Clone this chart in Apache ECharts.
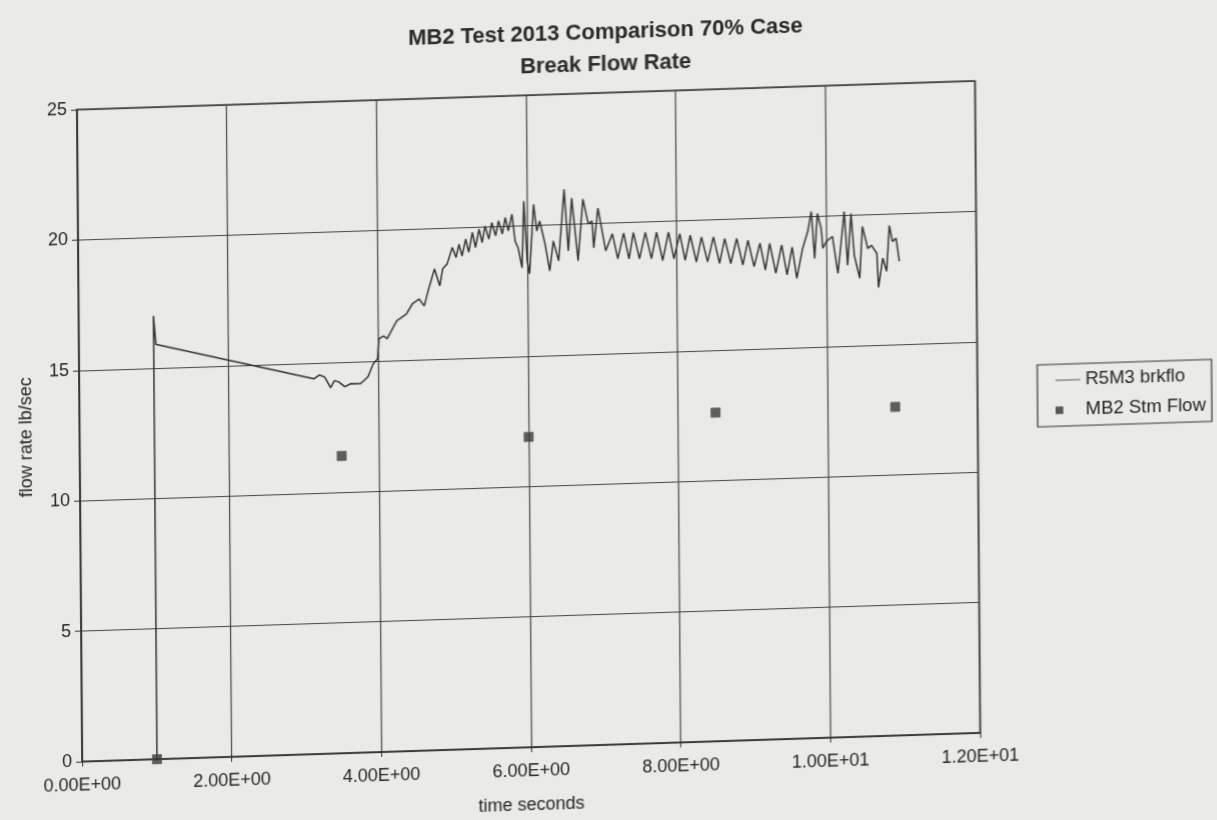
<!DOCTYPE html>
<html>
<head>
<meta charset="utf-8">
<title>MB2 Test 2013 Comparison 70% Case</title>
<script src="https://cdn.jsdelivr.net/npm/echarts@6/dist/echarts.min.js"></script>
<style>
  html, body { margin: 0; padding: 0; background: #eaeae8; overflow: hidden; width: 1217px; height: 820px; }
  /* the page sits slightly sheared, the way the printed sheet was fed */
  #chart {
    width: 1217px;
    height: 880px;
    transform-origin: 0 0;
    transform: matrix(1, -0.032, 0.008, 1, 0, 0);
  }
</style>
</head>
<body>
<div id="chart"></div>
<script>
// RELAP5/MOD3 computed break flow (time s, flow lb/sec)
const r5Time = [
  1.00, 1.00, 1.03, 3.14, 3.21, 3.28, 3.36, 3.41, 3.47, 3.55, 3.63, 3.76, 3.86, 3.93, 3.99,
  4.01, 4.07, 4.12, 4.25, 4.38, 4.46, 4.55, 4.62, 4.68, 4.76, 4.83, 4.87, 4.93,
  5.00, 5.05, 5.09, 5.13, 5.18, 5.22, 5.27, 5.31, 5.36, 5.40, 5.44, 5.49, 5.53, 5.58,
  5.62, 5.67, 5.71, 5.75, 5.80, 5.84, 5.88, 5.93, 5.96, 6.00, 6.03, 6.09, 6.13, 6.17,
  6.24, 6.30, 6.35, 6.42, 6.50, 6.55, 6.60, 6.68, 6.75, 6.82, 6.87, 6.89, 6.95, 7.05,
  7.14, 7.21, 7.29, 7.36, 7.42, 7.50, 7.58, 7.66, 7.73, 7.81, 7.89, 7.96, 8.04, 8.11,
  8.18, 8.26, 8.33, 8.41, 8.49, 8.57, 8.64, 8.72, 8.80, 8.88, 8.95, 9.03, 9.11, 9.18,
  9.24, 9.32, 9.40, 9.47, 9.54, 9.60, 9.68, 9.75, 9.80, 9.84, 9.88, 9.93, 9.95, 10.00,
  10.08, 10.15, 10.24, 10.28, 10.33, 10.37, 10.44, 10.48, 10.55, 10.60, 10.67, 10.69,
  10.75, 10.80, 10.84, 10.88, 10.93, 10.97
];
const r5Flow = [
  0.00, 17.00, 15.90, 14.39, 14.53, 14.45, 14.03, 14.29, 14.24, 14.05, 14.16, 14.15, 14.40, 14.89, 15.08,
  15.84, 15.95, 15.84, 16.51, 16.76, 17.14, 17.32, 17.05, 17.69, 18.45, 17.80, 18.45, 18.63,
  19.26, 18.87, 19.37, 18.92, 19.56, 19.05, 19.81, 19.23, 19.92, 19.41, 20.04, 19.53, 20.16, 19.65,
  20.22, 19.71, 20.34, 19.82, 20.45, 19.42, 19.15, 18.39, 20.94, 18.65, 18.15, 20.81, 19.78, 20.16,
  19.27, 18.24, 19.38, 18.61, 21.35, 18.98, 21.00, 18.59, 20.95, 19.99, 20.10, 19.07, 20.59, 18.94,
  19.58, 18.62, 19.60, 18.60, 19.61, 18.59, 19.60, 18.58, 19.59, 18.50, 19.58, 18.55, 19.50, 18.48,
  19.43, 18.40, 19.35, 18.39, 19.34, 18.32, 19.26, 18.30, 19.25, 18.23, 19.17, 18.15, 19.04, 18.01,
  19.02, 17.87, 18.95, 17.80, 18.85, 17.65, 18.79, 19.43, 20.19, 18.39, 20.11, 19.53, 18.77, 19.03,
  19.21, 17.79, 20.15, 18.09, 20.07, 18.46, 17.58, 19.56, 18.71, 18.82, 18.51, 17.20,
  18.32, 17.81, 19.56, 18.95, 19.06, 18.18
];

// MB2 measured steam flow
const mb2Time = [1.0, 3.5, 6.0, 8.5, 10.9];
const mb2Flow = [0.0, 11.4, 11.9, 12.6, 12.6];

// Axis tick labels
const xTickLabels = ['0.00E+00', '2.00E+00', '4.00E+00', '6.00E+00', '8.00E+00', '1.00E+01', '1.20E+01'];
const yTickLabels = ['0', '5', '10', '15', '20', '25'];

const seriesNames = ['R5M3 brkflo', 'MB2 Stm Flow'];

const ink = '#262626';
const font = '"Liberation Sans", Arial, sans-serif';

const chart = echarts.init(document.getElementById('chart'), null, { renderer: 'canvas' });

chart.setOption({
  backgroundColor: '#eaeae8',
  animation: false,
  textStyle: { fontFamily: font, color: ink },
  title: {
    text: 'MB2 Test 2013 Comparison 70% Case\nBreak Flow Rate',
    left: 600,
    top: 31,
    textAlign: 'center',
    textStyle: { fontSize: 22, lineHeight: 32, fontWeight: 'bold', color: '#2a2a2a', fontFamily: font }
  },
  legend: {
    orient: 'vertical',
    left: 1034,
    top: 398,
    padding: [6, 6, 6, 18],
    itemGap: 10,
    itemWidth: 25,
    itemHeight: 10,
    borderColor: '#333',
    borderWidth: 1.2,
    textStyle: { fontSize: 18.5, lineHeight: 20, color: ink, fontFamily: font },
    data: [
      { name: seriesNames[0], icon: 'path://M0,0 L26,0 L26,1 L0,1 Z', itemStyle: { color: '#555', borderWidth: 0 } },
      { name: seriesNames[1], icon: 'path://M0,0 L8,0 L8,8 L0,8 Z M26,4 L26,4 Z', itemStyle: { color: '#333', borderWidth: 0 } }
    ]
  },
  grid: {
    left: 76,
    top: 112,
    width: 898,
    height: 652,
    show: true,
    borderColor: '#333',
    borderWidth: 1.5,
    backgroundColor: 'transparent'
  },
  xAxis: {
    type: 'value',
    min: 0,
    max: 12,
    interval: 2,
    name: 'time seconds',
    nameLocation: 'middle',
    nameGap: 49,
    nameTextStyle: { fontSize: 18, color: ink, fontFamily: font },
    axisLine: { show: true, onZero: false, lineStyle: { color: '#333', width: 1.5 } },
    axisTick: { show: true, inside: false, length: 5, lineStyle: { color: '#333' } },
    axisLabel: {
      fontSize: 18,
      color: ink,
      margin: 15,
      formatter: v => xTickLabels[Math.round(v / 2)]
    },
    splitLine: { show: true, lineStyle: { color: '#444', width: 1.2 } }
  },
  yAxis: {
    type: 'value',
    min: 0,
    max: 25,
    interval: 5,
    name: 'flow rate lb/sec',
    nameLocation: 'middle',
    nameGap: 44,
    nameRotate: 90,
    nameTextStyle: { fontSize: 18, color: ink, fontFamily: font },
    axisLine: { show: true, lineStyle: { color: '#333', width: 1.5 } },
    axisTick: { show: true, inside: false, length: 6, lineStyle: { color: '#333' } },
    axisLabel: {
      fontSize: 18,
      color: ink,
      margin: 10,
      formatter: v => yTickLabels[Math.round(v / 5)]
    },
    splitLine: { show: true, lineStyle: { color: '#444', width: 1.2 } }
  },
  series: [
    {
      name: seriesNames[0],
      type: 'line',
      data: r5Time.map((t, i) => [t, r5Flow[i]]),
      showSymbol: false,
      symbol: 'none',
      lineStyle: { color: '#333', width: 1.5 },
      itemStyle: { color: '#333' },
      z: 3
    },
    {
      name: seriesNames[1],
      type: 'scatter',
      data: mb2Time.map((t, i) => [t, mb2Flow[i]]),
      symbol: 'rect',
      symbolSize: 9,
      itemStyle: { color: '#3a3a3a', borderColor: '#555', borderWidth: 1 },
      z: 4
    }
  ]
});
</script>
</body>
</html>
